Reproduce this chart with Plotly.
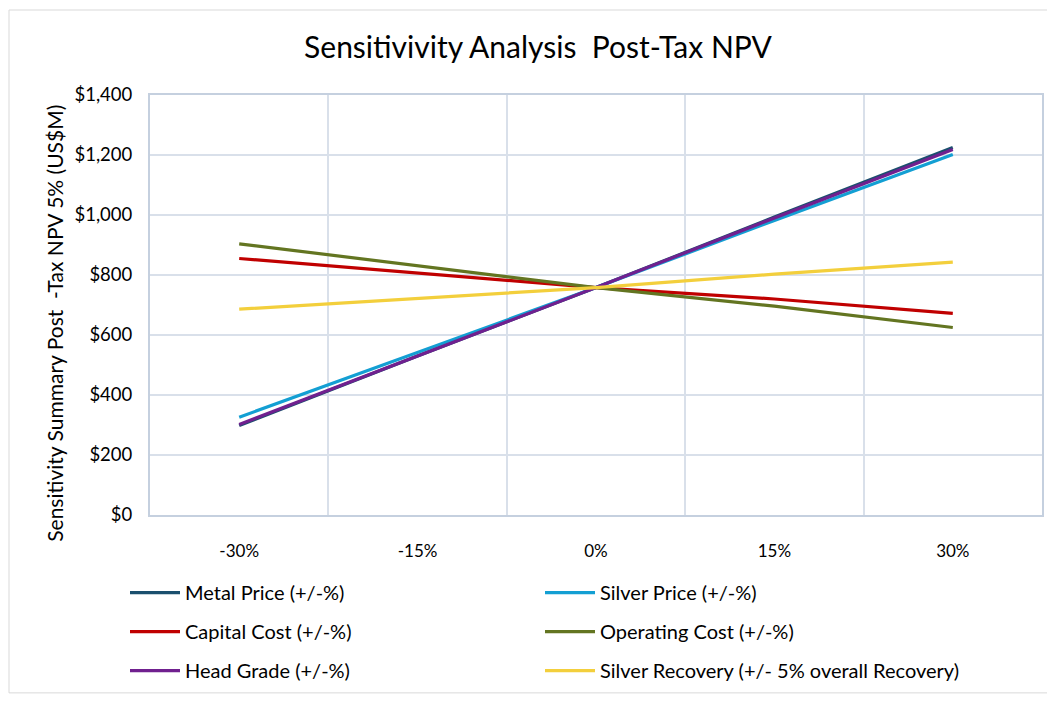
import plotly.graph_objects as go

categories = ["-30%", "-15%", "0%", "15%", "30%"]
metal_price = [298, 530, 758, 993, 1225]
silver_price = [326, 543, 758, 982, 1202]
capital_cost = [855, 807, 758, 720, 672]
operating_cost = [904, 831, 758, 696, 625]
head_grade = [302, 530, 758, 990, 1218]
silver_recovery = [686, 722, 758, 803, 843]

series = [
    ("Metal Price (+/-%)", metal_price, "#1B4F6E", "legend"),
    ("Silver Price (+/-%)", silver_price, "#139FD3", "legend2"),
    ("Capital Cost (+/-%)", capital_cost, "#C00000", "legend"),
    ("Operating Cost (+/-%)", operating_cost, "#637521", "legend2"),
    ("Head Grade (+/-%)", head_grade, "#70208F", "legend"),
    ("Silver Recovery (+/- 5% overall Recovery)", silver_recovery, "#F3CF3C", "legend2"),
]

fig = go.Figure()
for i, (name, vals, color, leg) in enumerate(series):
    fig.add_trace(go.Scatter(x=categories, y=vals, name=name, mode="lines",
                             line=dict(color=color, width=3.2), legend=leg,
                             legendgroup=f"g{i}"))

font_family = "Lato, 'Open Sans', sans-serif"
OFF = 8  # page body margin
W, H = 1047, 694
L, R, T, B = 142, 13, 87, 182
pw = W - L - R
ph = H - T - B

def px_x(px):
    return (px - OFF - L) / pw

def px_y(py):
    return (H - B - (py - OFF)) / ph

legend_common = dict(orientation="v", xanchor="left", yanchor="middle",
                     tracegroupgap=10,
                     font=dict(size=20, color="#000000", family=font_family),
                     bgcolor="rgba(0,0,0,0)", itemwidth=50)

fig.update_layout(
    width=W, height=H,
    margin=dict(l=L, r=R, t=T, b=B),
    paper_bgcolor="white", plot_bgcolor="white",
    font=dict(family=font_family, color="#000000"),
    title=dict(text="Sensitivivity Analysis  Post-Tax NPV", x=px_x(538), xanchor="center",
               xref="paper", y=px_y(47) * ph / H + B / H, yanchor="middle",
               font=dict(size=30, color="#000000", family=font_family)),
    xaxis=dict(type="category", tickson="boundaries", showgrid=True, range=[-0.5, 4.5],
               gridcolor="#D9E0EA", gridwidth=1.5, ticks="", ticklabelstandoff=20,
               tickfont=dict(size=17, color="#000000"),
               showline=True, linecolor="#C5D0DF", linewidth=2, mirror=True,
               zeroline=False),
    yaxis=dict(range=[0, 1400], dtick=200, tickprefix="$", tickformat=",d",
               showgrid=True, gridcolor="#D9E0EA", gridwidth=1.5,
               tickfont=dict(size=18.5, color="#000000"), ticks="", ticklabelstandoff=12,
               showline=True, linecolor="#C5D0DF", linewidth=2, mirror=True,
               zeroline=False),
    annotations=[dict(text="Sensitivity Summary Post  -Tax NPV 5% (US$M)",
                      xref="paper", yref="paper", x=px_x(55), y=px_y(326.5),
                      xanchor="center", yanchor="middle", textangle=-90,
                      showarrow=False, font=dict(size=21, color="#000000"))],
    legend=dict(x=px_x(125), y=px_y(638), **legend_common),
    legend2=dict(x=px_x(540), y=px_y(638), **legend_common),
    shapes=[dict(type="rect", xref="paper", yref="paper",
                 x0=px_x(9), x1=px_x(1052), y0=px_y(700), y1=px_y(9),
                 line=dict(color="#D9D9D9", width=1), fillcolor="rgba(0,0,0,0)",
                 layer="below")],
)

fig.write_html("out.html")
